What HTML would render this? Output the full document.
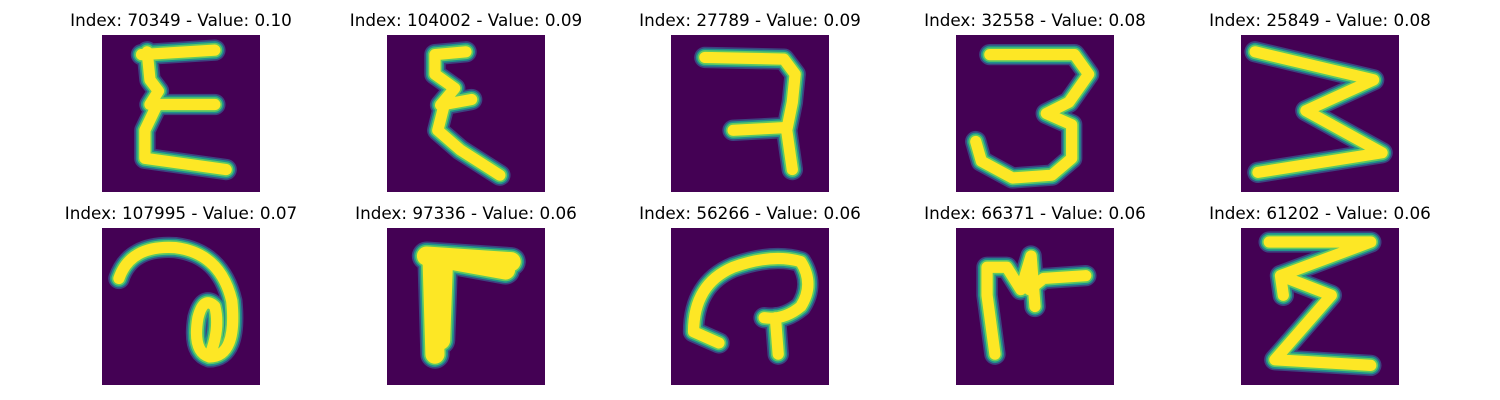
<!DOCTYPE html>
<html><head><meta charset="utf-8"><style>
html,body{margin:0;padding:0;background:#fff;}
body{width:1500px;height:400px;position:relative;overflow:hidden;font-family:"DejaVu Sans","Liberation Sans",sans-serif;}
.t{position:absolute;font-size:16.8px;color:#000;white-space:nowrap;transform:translateX(-50%);}
svg.im{position:absolute;width:158px;height:157px;}
</style></head><body>
<div id="root"></div>
<script>
const indices=[70349,104002,27789,32558,25849,107995,97336,56266,66371,61202];
const values=[0.10,0.09,0.09,0.08,0.08,0.07,0.06,0.06,0.06,0.06];
const glyphs=[
"M7,3.5 L20,2.7 M8,3 L8.5,8 L10,10 L8.5,12.4 L20,12.4 M9.5,13 L7.6,17 L7.6,22 L22,24",
"M8.5,3.5 L14,3 M8.5,3.5 L8.5,7 L12,9.5 L9.5,12.5 L15,11.5 M10,13 L9,17 L13,20.5 L20,25",
"M6,4 L20,4.3 L22,7 L21.5,12 L20.5,17 L21.5,24 M11,17 L20.5,16.5",
"M6,3.5 L21,3.5 L23.5,7 L20,12 L16,14 L20.5,16 L20.5,22 L17,25 L10,25.5 L4.5,22.5 L3.5,19",
"M2.5,3 L23.5,8 L11.5,13.5 L25,21 L3,24.5",
"M3,9 Q5,3 13,3.5 Q21,4.5 23,13 Q24,23 19,23 Q16,22 17,16 Q18,12 20,14 Q21,18 19,23",
"M7,5 L22,6 M8,6 L8.5,22.5 M10,6 L9.5,20 M10,5.5 L21,7.5",
"M8.5,20.5 L4,18.5 Q4,10 11,7 Q18,4.5 23,6 Q25.5,10 23,14 Q20,16.5 16.5,16 M18.5,16 L19,22.5",
"M6.9,22.5 L5.5,12 L5.5,7 L9,7 L11.5,11 L13.3,5 L14,14 M13,11 L15.5,9 L23,8.5",
"M5,2.5 L23,2.5 L7,8.5 L16,12 L6,23.5 L23,24.5 M7,8.5 L7.5,12"
];
const colX=[102,387,671,956,1241];
const rowY=[35,228];
const root=document.getElementById('root');
const NS='http://www.w3.org/2000/svg';
for(let i=0;i<indices.length;i++){
  const x=colX[i%5], y=rowY[Math.floor(i/5)];
  const t=document.createElement('div');
  t.className='t';
  t.style.left=(x+79)+'px';
  t.style.top=(y-25)+'px';
  t.textContent='Index: '+indices[i]+' - Value: '+values[i].toFixed(2);
  
  
  root.appendChild(t);
  const s=document.createElementNS(NS,'svg');
  s.setAttribute('class','im');
  s.setAttribute('viewBox','0 0 28 28');
  s.setAttribute('preserveAspectRatio','none');
  s.style.left=x+'px'; s.style.top=y+'px';
  
  
  const bg=document.createElementNS(NS,'rect');
  bg.setAttribute('width','28');bg.setAttribute('height','28');bg.setAttribute('fill','#440154');
  s.appendChild(bg);
  const w=(i===6)?1.4:0;
  [['#3b528b',3.8+w,0.8],['#21918c',3.2+w,1],['#5ec962',2.6+w,1],['#fde725',2.0+w,1]].forEach(c=>{
    const p=document.createElementNS(NS,'path');
    p.setAttribute('d',glyphs[i]);
    p.setAttribute('fill','none');
    p.setAttribute('stroke',c[0]);
    p.setAttribute('stroke-width',c[1]);
    p.setAttribute('stroke-opacity',c[2]);
    p.setAttribute('stroke-linecap','round');
    p.setAttribute('stroke-linejoin','round');
    s.appendChild(p);
  });
  root.appendChild(s);
}
</script>
</body></html>
